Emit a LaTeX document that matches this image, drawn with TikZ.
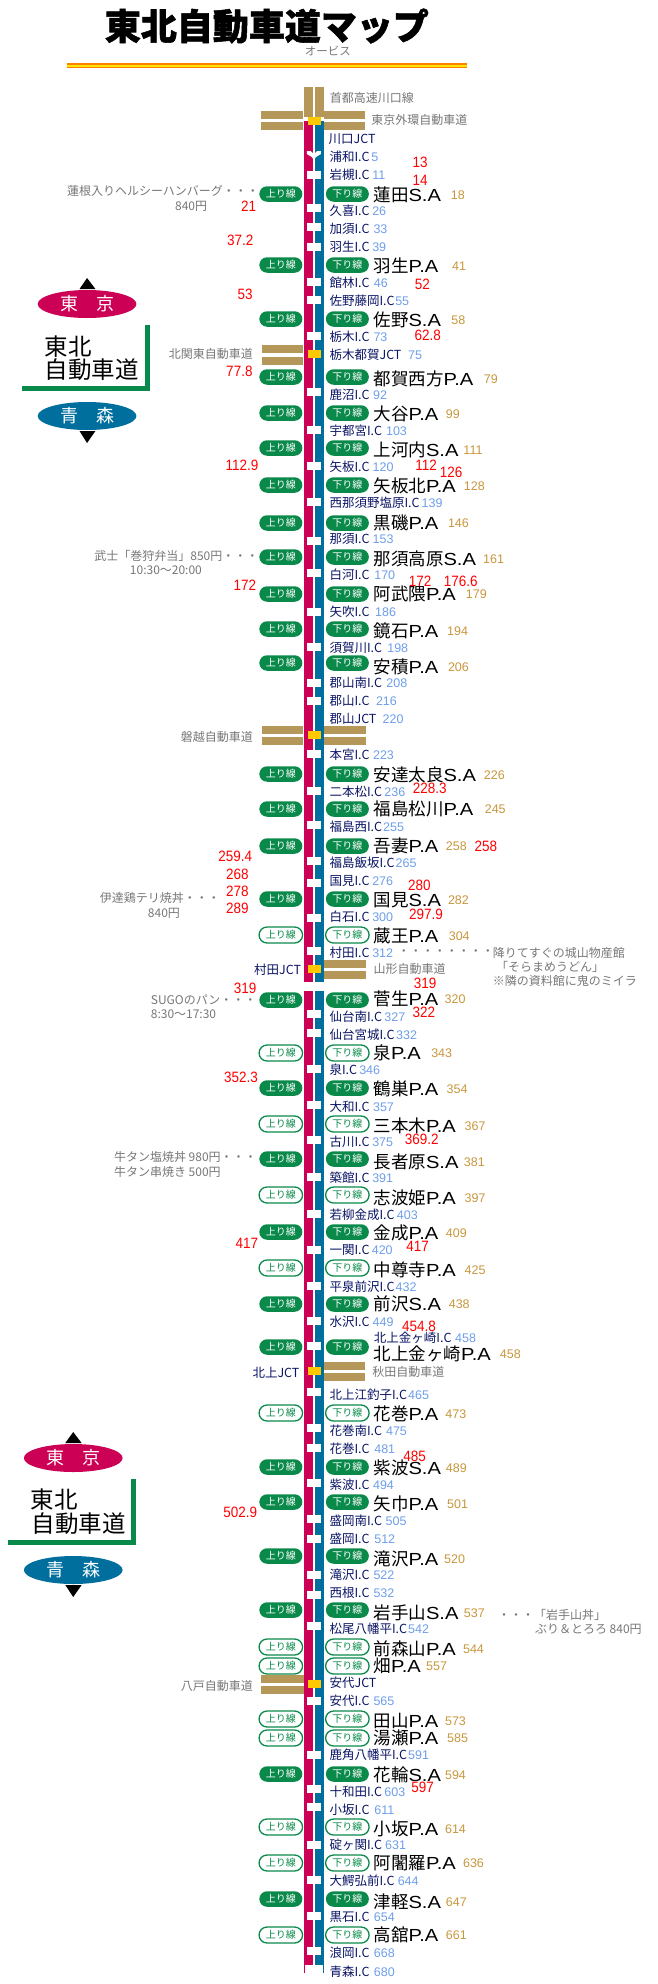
\documentclass[tikz,border=0pt]{standalone}
\usepackage{fontspec}
\usetikzlibrary{shapes.misc}
\setmainfont{Liberation Sans}
\newfontfamily\cjk{Noto Sans CJK JP}
\newfontfamily\cjkt{Noto Sans CJK JP}[BoldFeatures={FakeBold=1.5}]
\newfontfamily\latw{Liberation Sans}[FakeStretch=1.15]
\newfontfamily\rednumf{Liberation Sans}[FakeStretch=0.9]
\definecolor{roadred}{HTML}{CC0055}
\definecolor{roadblue}{HTML}{006F9E}
\definecolor{pillgreen}{HTML}{0A8A4A}
\definecolor{brownband}{HTML}{B5975A}
\definecolor{jctyellow}{HTML}{FFC800}
\definecolor{navytxt}{HTML}{0A1464}
\definecolor{kmblue}{HTML}{6D9EEB}
\definecolor{kmgold}{HTML}{C8963C}
\definecolor{graytx}{HTML}{777777}
\tikzset{
  txt/.style={inner sep=0pt,anchor=west},
  iclabel/.style={txt,text=navytxt,font=\cjk\fontsize{12.5}{13}\selectfont},
  kmic/.style={txt,text=kmblue,font=\fontsize{12.5}{13}\selectfont},
  kmsa/.style={txt,text=kmgold,font=\fontsize{12.5}{13}\selectfont},
  salabel/.style={txt,text=black,font=\cjk\fontsize{17.5}{18}\selectfont},
  rednumber/.style={inner sep=0pt,text=red,font=\rednumf\fontsize{15}{16}\selectfont},
  graynote/.style={txt,text=graytx,font=\cjk\fontsize{12}{13}\selectfont},
  pillbase/.style={rounded rectangle,inner sep=0pt,font=\cjk\fontsize{10}{11}\selectfont},
  pillF/.style={pillbase,fill=pillgreen,text=white,minimum width=43pt,minimum height=15.5pt},
  pillO/.style={pillbase,draw=pillgreen,line width=1.3pt,fill=white,text=pillgreen,minimum width=43.5pt,minimum height=16pt},
  band/.style={fill=brownband},
  jctbox/.style={fill=jctyellow},
  gap/.style={fill=white},
}
\newcommand{\icrow}[4]{% y, label, kmx, km
  \node[iclabel] (ic#1) at (787,#1) {#2I.C};
  \node[kmic] (ick#1) at (#3,#1) {#4};}
\newcommand{\jctrow}[4]{%
  \node[iclabel] (jc#1) at (787,#1) {#2JCT};
  \node[kmic] (jck#1) at (#3,#1) {#4};}
\newcommand{\svcrow}[7]{% pilly, style, labely, kanji, latin, kmx, km
  \node[pill#2] (up#1) at (671,#1) {上り線};
  \node[pill#2] (dn#1) at (830,#1) {下り線};
  \node[salabel] (sa#1) at (892,#3) {#4\latw #5};
  \node[kmsa] (sak#1) at (#6,#3) {#7};}
\newcommand{\rednum}[3]{\node[rednumber] (r#1-#2) at (#1,#2) {#3};}
\newcommand{\graytxt}[3]{\node[graynote] (g#1-#2) at (#1,#2) {#3};}
\newcommand{\gapbox}[1]{\fill[gap] (733,#1-4) rectangle (767,#1+4);}
\newcommand{\jctsq}[1]{\fill[jctbox] (735,#1-4) rectangle (767,#1+4);}
\newcommand{\bandpair}[4]{% x1,x2,y1,y2 -- two 8px bands
  \fill[band] (#1,#3) rectangle (#2,#3+8);
  \fill[band] (#1,#4) rectangle (#2,#4+8);}
\begin{document}
\begin{tikzpicture}[x=0.4185pt,y=-1pt]
\useasboundingbox (0,0) rectangle (1569.9,1984);
% title
\node[txt,font=\cjkt\bfseries\fontsize{36}{38}\selectfont] (title) at (250,26) {東北自動車道マップ};
\node[txt,text=graytx,font=\cjk\fontsize{11.5}{12}\selectfont] (orbis) at (728,51) {オービス};
\fill[orange] (160,63) rectangle (1115,68);
\fill[yellow!90!orange] (160,64.5) rectangle (1115,66.5);
% roads
\fill[band] (727,87) rectangle (747,117);
\fill[band] (753,87) rectangle (773,117);
\bandpair{623}{725}{111}{122}
\bandpair{773}{872}{111}{122}
\fill[roadred] (727,121) rectangle (747,982);
\fill[roadblue] (753,121) rectangle (773,982);
\fill[roadred] (727,991) rectangle (747,1965);
\fill[roadblue] (753,991) rectangle (773,1965);
\draw[roadred,line width=.6pt] (728,1965) -- (728,1973);
\draw[roadblue,line width=.6pt] (772,1965) -- (772,1973);
\bandpair{625}{725}{345}{357}
\bandpair{625}{725}{726}{737}
\bandpair{773}{875}{726}{737}
\bandpair{773}{875}{960}{971}
\bandpair{773}{873}{1362}{1373}
\bandpair{623}{727}{1675}{1686}
\foreach \yy in {121,354,735,969,1371,1684} {\jctsq{\yy}}
\fill[gap] (733,151) -- (742,151) -- (750,154) -- (758,151) -- (767,151) -- (767,154) -- (755,157) -- (750,160) -- (745,157) -- (733,154) -- cycle;
\foreach \yy in {175,208,227,247,282,300,336,392,430,466,502,541,573,612,647,683,701,754,791,825,861,883,918,951,1014,1033,1069,1105,1140,1177,1214,1250,1286,1321,1346,1392,1428,1448,1483,1519,1539,1575,1595,1626,1701,1755,1789,1807,1845,1880,1916,1951,1970} {\gapbox{\yy}}
% top labels
\graytxt{788}{98}{首都高速川口線}
\graytxt{887}{120}{東京外環自動車道}
\node[iclabel] (jct1) at (785,139) {川口JCT};
% interchanges
\icrow{157}{浦和}{887}{5}
\icrow{175}{岩槻}{889}{11}
\icrow{211}{久喜}{889}{26}
\icrow{229}{加須}{892}{33}
\icrow{247}{羽生}{889}{39}
\icrow{283}{館林}{893}{46}
\icrow{301}{佐野藤岡}{944}{55}
\icrow{337}{栃木}{892}{73}
\jctrow{355}{栃木都賀}{975}{75}
\icrow{395}{鹿沼}{891}{92}
\icrow{431}{宇都宮}{922}{103}
\icrow{467}{矢板}{890}{120}
\icrow{503}{西那須野塩原}{1007}{139}
\icrow{539}{那須}{890}{153}
\icrow{575}{白河}{894}{170}
\icrow{612}{矢吹}{896}{186}
\icrow{648}{須賀川}{925}{198}
\icrow{683}{郡山南}{923}{208}
\icrow{701}{郡山}{898}{216}
\jctrow{719}{郡山}{914}{220}
\icrow{755}{本宮}{891}{223}
\icrow{792}{二本松}{918}{236}
\icrow{827}{福島西}{915}{255}
\icrow{863}{福島飯坂}{945}{265}
\icrow{881}{国見}{889}{276}
\icrow{917}{白石}{889}{300}
\icrow{953}{村田}{889}{312}
\node[iclabel,anchor=east] (jctm) at (720,970) {村田JCT};
\icrow{1017}{仙台南}{918}{327}
\icrow{1035}{仙台宮城}{946}{332}
\icrow{1070}{泉}{858}{346}
\icrow{1107}{大和}{891}{357}
\icrow{1142}{古川}{889}{375}
\icrow{1178}{築館}{889}{391}
\icrow{1215}{若柳金成}{948}{403}
\icrow{1250}{一関}{888}{420}
\icrow{1287}{平泉前沢}{945}{432}
\icrow{1322}{水沢}{890}{449}
\node[iclabel] (ickk) at (893,1338) {北上金ヶ崎I.C};
\node[kmic] (ickkn) at (1087,1338) {458};
\node[iclabel,anchor=east] (jctk) at (716,1373) {北上JCT};
\icrow{1395}{北上江釣子}{975}{465}
\icrow{1431}{花巻南}{922}{475}
\icrow{1449}{花巻}{894}{481}
\icrow{1485}{紫波}{891}{494}
\icrow{1521}{盛岡南}{921}{505}
\icrow{1539}{盛岡}{894}{512}
\icrow{1575}{滝沢}{892}{522}
\icrow{1593}{西根}{892}{532}
\icrow{1629}{松尾八幡平}{975}{542}
\node[iclabel] (jcta) at (787,1683) {安代JCT};
\icrow{1701}{安代}{892}{565}
\icrow{1755}{鹿角八幡平}{975}{591}
\icrow{1792}{十和田}{918}{603}
\icrow{1810}{小坂}{894}{611}
\icrow{1845}{碇ヶ関}{920}{631}
\icrow{1881}{大鰐弘前}{950}{644}
\icrow{1917}{黒石}{893}{654}
\icrow{1953}{浪岡}{893}{668}
\icrow{1972}{青森}{893}{680}
% service areas
\svcrow{194}{F}{195}{蓮田}{S.A}{1077}{18}
\svcrow{265}{F}{266}{羽生}{P.A}{1080}{41}
\svcrow{319}{F}{320}{佐野}{S.A}{1078}{58}
\svcrow{377}{F}{379}{都賀西方}{P.A}{1156}{79}
\svcrow{413}{F}{414}{大谷}{P.A}{1065}{99}
\svcrow{448}{F}{450}{上河内}{S.A}{1107}{111}
\svcrow{485}{F}{486}{矢板北}{P.A}{1108}{128}
\svcrow{523}{F}{523}{黒磯}{P.A}{1070}{146}
\svcrow{557}{F}{559}{那須高原}{S.A}{1154}{161}
\svcrow{594}{F}{594}{阿武隈}{P.A}{1113}{179}
\svcrow{629}{F}{631}{鏡石}{P.A}{1068}{194}
\svcrow{663}{F}{667}{安積}{P.A}{1070}{206}
\svcrow{774}{F}{775}{安達太良}{S.A}{1156}{226}
\svcrow{809}{F}{809}{福島松川}{P.A}{1158}{245}
\svcrow{846}{F}{846}{吾妻}{P.A}{1065}{258}
\svcrow{899}{F}{900}{国見}{S.A}{1070}{282}
\svcrow{935}{O}{936}{蔵王}{P.A}{1072}{304}
\svcrow{1000}{F}{999}{菅生}{P.A}{1062}{320}
\svcrow{1053}{O}{1053}{泉}{P.A}{1030}{343}
\svcrow{1088}{F}{1089}{鶴巣}{P.A}{1067}{354}
\svcrow{1124}{O}{1126}{三本木}{P.A}{1110}{367}
\svcrow{1159}{F}{1162}{長者原}{S.A}{1108}{381}
\svcrow{1195}{O}{1198}{志波姫}{P.A}{1110}{397}
\svcrow{1232}{F}{1233}{金成}{P.A}{1065}{409}
\svcrow{1268}{O}{1270}{中尊寺}{P.A}{1110}{425}
\svcrow{1304}{F}{1304}{前沢}{S.A}{1072}{438}
\svcrow{1347}{F}{1354}{北上金ヶ崎}{P.A}{1194}{458}
\svcrow{1413}{O}{1414}{花巻}{P.A}{1064}{473}
\svcrow{1467}{F}{1468}{紫波}{S.A}{1065}{489}
\svcrow{1502}{F}{1504}{矢巾}{P.A}{1068}{501}
\svcrow{1556}{F}{1559}{滝沢}{P.A}{1061}{520}
\svcrow{1610}{F}{1613}{岩手山}{S.A}{1108}{537}
\svcrow{1647}{O}{1649}{前森山}{P.A}{1106}{544}
\svcrow{1666}{O}{1666}{畑}{P.A}{1018}{557}
\svcrow{1719}{O}{1721}{田山}{P.A}{1063}{573}
\svcrow{1738}{O}{1738}{湯瀬}{P.A}{1068}{585}
\svcrow{1774}{F}{1775}{花輪}{S.A}{1063}{594}
\svcrow{1827}{O}{1829}{小坂}{P.A}{1063}{614}
\svcrow{1863}{O}{1863}{阿闍羅}{P.A}{1106}{636}
\svcrow{1899}{F}{1902}{津軽}{S.A}{1065}{647}
\svcrow{1935}{O}{1935}{高舘}{P.A}{1065}{661}
% red numbers
\rednum{1004}{162}{13}
\rednum{1004}{180}{14}
\rednum{594}{206}{21}
\rednum{574}{240}{37.2}
\rednum{1009}{284}{52}
\rednum{586}{294}{53}
\rednum{1022}{335}{62.8}
\rednum{572}{371}{77.8}
\rednum{578}{465}{112.9}
\rednum{1018}{465}{112}
\rednum{1078}{472}{126}
\rednum{585}{585}{172}
\rednum{1004}{581}{172}
\rednum{1101}{581}{176.6}
\rednum{1027}{788}{228.3}
\rednum{1161}{846}{258}
\rednum{562}{856}{259.4}
\rednum{567}{874}{268}
\rednum{567}{891}{278}
\rednum{567}{908}{289}
\rednum{1002}{885}{280}
\rednum{1018}{914}{297.9}
\rednum{1016}{983}{319}
\rednum{586}{988}{319}
\rednum{1013}{1012}{322}
\rednum{576}{1077}{352.3}
\rednum{1008}{1139}{369.2}
\rednum{590}{1243}{417}
\rednum{998}{1246}{417}
\rednum{1001}{1326}{454.8}
\rednum{991}{1456}{485}
\rednum{574}{1512}{502.9}
\rednum{1010}{1787}{597}
% gray notes
\graytxt{160}{191}{蓮根入りヘルシーハンバーグ・・・}
\graytxt{418}{206}{840円}
\graytxt{403}{354}{北関東自動車道}
\graytxt{225}{556}{武士「巻狩弁当」850円・・・}
\graytxt{310}{570}{10:30～20:00}
\graytxt{432}{737}{磐越自動車道}
\graytxt{238}{898}{伊達鶏テリ焼丼・・・}
\graytxt{353}{913}{840円}
\graytxt{950}{953}{・・・・・・・・}
\graytxt{1177}{953}{降りてすぐの城山物産館}
\graytxt{1185}{967}{「そらまめうどん」}
\graytxt{1177}{981}{※隣の資料館に鬼のミイラ}
\graytxt{892}{969}{山形自動車道}
\graytxt{360}{1000}{SUGOのパン・・・}
\graytxt{360}{1014}{8:30～17:30}
\graytxt{272}{1157}{牛タン塩焼丼 980円・・・}
\graytxt{272}{1172}{牛タン串焼き 500円}
\graytxt{889}{1372}{秋田自動車道}
\graytxt{1190}{1615}{・・・「岩手山丼」}
\graytxt{1278}{1629}{ぶり＆とろろ 840円}
\graytxt{432}{1686}{八戸自動車道}
% top emblem
\fill[black] (208,278) -- (228,289) -- (190,289) -- cycle;
\fill[roadred] (208,304) ellipse [x radius=118,y radius=14];
\node[inner sep=0pt,text=white,font=\cjk\fontsize{18}{19}\selectfont] (tk1) at (208,304) {東\hspace{18pt}京};
\fill[pillgreen] (347,325) rectangle (358,391);
\fill[pillgreen] (53,386) rectangle (358,391);
\node[txt,font=\cjk\fontsize{23.5}{24}\selectfont] (em1) at (106,347) {東北};
\node[txt,font=\cjk\fontsize{23.5}{24}\selectfont] (em2) at (106,370) {自動車道};
\fill[roadblue] (208,416) ellipse [x radius=118,y radius=14];
\node[inner sep=0pt,text=white,font=\cjk\fontsize{18}{19}\selectfont] (am1) at (208,416) {青\hspace{18pt}森};
\fill[black] (208,443) -- (228,431) -- (190,431) -- cycle;
% bottom emblem
\fill[black] (175,1432) -- (195,1443) -- (156,1443) -- cycle;
\fill[roadred] (175,1458) ellipse [x radius=118,y radius=14];
\node[inner sep=0pt,text=white,font=\cjk\fontsize{18}{19}\selectfont] (tk2) at (175,1458) {東\hspace{18pt}京};
\fill[pillgreen] (314,1479) rectangle (325,1545);
\fill[pillgreen] (19,1540) rectangle (325,1545);
\node[txt,font=\cjk\fontsize{23.5}{24}\selectfont] (em3) at (73,1500) {東北};
\node[txt,font=\cjk\fontsize{23.5}{24}\selectfont] (em4) at (75,1524) {自動車道};
\fill[roadblue] (175,1570) ellipse [x radius=118,y radius=14];
\node[inner sep=0pt,text=white,font=\cjk\fontsize{18}{19}\selectfont] (am2) at (175,1570) {青\hspace{18pt}森};
\fill[black] (175,1597) -- (195,1585) -- (156,1585) -- cycle;
\end{tikzpicture}
\end{document}
